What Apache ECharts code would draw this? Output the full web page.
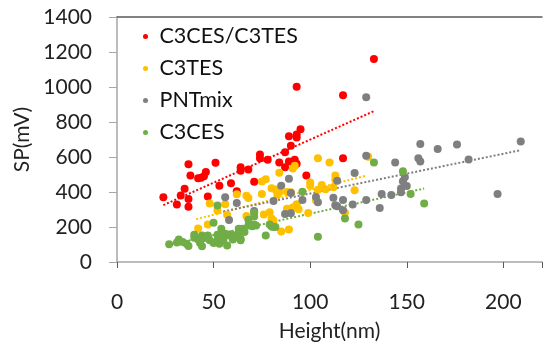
<!DOCTYPE html>
<html>
<head>
<meta charset="utf-8">
<script src="https://cdn.jsdelivr.net/npm/echarts@6/dist/echarts.min.js"></script>
<style>
  html, body { margin: 0; padding: 0; background: #fff; }
  #chart { width: 545px; height: 347px; }
</style>
</head>
<body>
<div id="chart"></div>
<script>
// ---------------------------------------------------------------
// Data: [height (nm), SP (mV)]
// ---------------------------------------------------------------
var seriesNames = ['C3CES/C3TES', 'C3TES', 'PNTmix', 'C3CES'];
var seriesColors = ['#ff0000', '#ffc000', '#7f7f7f', '#70ad47'];

var mixedPoints = [
  [24, 370], [31, 328], [33, 380], [35, 418], [37, 360], [37, 316], [37, 558], [38, 495],
  [42, 478], [43.5, 482], [45, 490], [46, 514], [47, 374], [51, 567], [53, 436], [59, 450],
  [62, 404], [64, 542], [64, 522], [68, 528], [71, 458], [74, 614], [74, 593], [78, 584],
  [84, 568], [87, 542], [89, 575], [87, 627], [90, 665], [93, 562], [92, 584], [89, 718],
  [93, 728], [95, 758], [93, 712], [93, 1002], [98, 494], [117, 593], [117, 953], [133, 1160]
];
var c3tesPoints = [
  [42, 192], [47, 215], [48, 335], [52, 294], [56, 330], [57, 270], [62, 387], [67, 379],
  [68, 366], [67, 263], [71, 285], [75, 389], [75, 460], [77, 473], [76, 272], [79, 285],
  [80, 421], [82, 415], [84, 510], [83, 385], [84, 398], [80, 249], [81, 237], [85, 175],
  [89, 186], [88, 400], [91, 535], [92, 550], [88, 305], [91, 311], [93, 330], [94, 302],
  [90, 399], [99, 280], [100, 455], [100, 436], [104, 413], [104, 593], [103, 351], [110, 569],
  [130, 601], [113, 495], [113, 470], [106, 440], [123, 410], [118, 281], [108, 416], [112, 427]
];
var pntPoints = [
  [56, 370], [62, 337], [58, 240], [71, 292], [81, 348], [85, 436], [90, 395], [89, 476],
  [87, 275], [90, 278], [96, 355], [103, 371], [104, 342], [113, 325], [112, 367], [114, 318],
  [117, 355], [117, 296], [122, 329], [123, 508], [114, 464], [129, 607], [129, 354], [136, 308],
  [137, 388], [142, 383], [147, 399], [147, 420], [150, 434], [148, 462], [149, 485], [144, 569],
  [156, 593], [157, 575], [157, 674], [166, 646], [176, 671], [209, 688], [182, 586], [197, 388],
  [129, 941]
];
var c3cesPoints = [
  [27, 101], [31, 111], [32, 129], [34, 115], [36, 105], [37, 92], [40, 156], [40, 139],
  [42, 128], [43, 109], [44, 90], [44, 152], [45, 137], [47, 152], [47, 143], [48, 124],
  [50, 109], [50, 224], [52, 124], [52, 156], [52, 323], [53, 105], [54, 190], [55, 124],
  [55, 152], [56, 162], [57, 95], [58, 152], [59, 158], [60, 128], [61, 143], [61, 152],
  [63, 190], [63, 166], [64, 124], [64, 133], [65, 190], [66, 172], [68, 241], [68, 209],
  [70, 205], [71, 213], [72, 209], [71, 281], [71, 260], [77, 152], [79, 215], [80, 203],
  [81, 200], [82, 200], [96, 401], [104, 145], [118, 249], [125, 215], [133, 569], [148, 518],
  [152, 388], [159, 335]
];

// Linear trend lines, end points
var mixedTrend = [[24, 325], [133, 862]];
var c3tesTrend = [[41, 245], [129, 493]];
var pntTrend = [[55, 289], [209, 639]];
var c3cesTrend = [[27, 98], [159, 420]];

var xTicks = [0, 50, 100, 150, 200];
var yTicks = [0, 200, 400, 600, 800, 1000, 1200, 1400];

// ---------------------------------------------------------------
// Chart
// ---------------------------------------------------------------
var font = 'Lato, "Open Sans", sans-serif';
var pointSets = [mixedPoints, c3tesPoints, pntPoints, c3cesPoints];
var trendSets = [mixedTrend, c3tesTrend, pntTrend, c3cesTrend];

var series = [];
pointSets.forEach(function (pts, i) {
  series.push({
    name: seriesNames[i],
    type: 'scatter',
    data: pts,
    symbolSize: 8,
    itemStyle: { color: seriesColors[i], opacity: 1 },
    z: 3
  });
});
trendSets.forEach(function (pts, i) {
  series.push({
    name: seriesNames[i] + ' trend',
    type: 'line',
    data: pts,
    showSymbol: false,
    silent: true,
    lineStyle: { color: seriesColors[i], width: 2, type: [2, 2] },
    z: 2
  });
});

var chart = echarts.init(document.getElementById('chart'), null, { renderer: 'canvas' });
chart.setOption({
  animation: false,
  backgroundColor: '#ffffff',
  textStyle: { fontFamily: font },
  grid: { left: 117, right: -3, top: 17, bottom: 83.5, containLabel: false },
  legend: {
    data: seriesNames.map(function (n) { return { name: n, icon: 'circle' }; }),
    orient: 'vertical',
    left: 138,
    top: 20.5,
    itemWidth: 18,
    itemHeight: 5,
    itemGap: 10,
    textStyle: { fontFamily: font, fontSize: 21.5, color: '#111' }
  },
  xAxis: [{
    type: 'value',
    min: 0,
    max: 220,
    interval: 50,
    name: 'Height(nm)',
    nameLocation: 'middle',
    nameGap: 59,
    nameTextStyle: { fontFamily: font, fontSize: 21, color: '#222' },
    axisLine: { show: true, lineStyle: { color: '#a6a6a6', width: 1.5 } },
    axisTick: { show: true, length: 6, lineStyle: { color: '#595959' } },
    axisLabel: {
      fontFamily: font, fontSize: 21, color: '#222', margin: 30,
      formatter: function (v) { return xTicks.indexOf(v) >= 0 ? String(v) : ''; }
    },
    splitLine: { show: false }
  }, {
    type: 'value',
    position: 'top',
    min: 0,
    max: 220,
    axisLine: { show: true, lineStyle: { color: '#595959', width: 1.5 } },
    axisTick: { show: false },
    axisLabel: { show: false },
    splitLine: { show: false }
  }],
  yAxis: {
    type: 'value',
    min: 0,
    max: 1400,
    interval: 200,
    name: 'SP(mV)',
    nameLocation: 'middle',
    nameGap: 83,
    nameTextStyle: { fontFamily: font, fontSize: 21, color: '#222' },
    axisLine: { show: true, lineStyle: { color: '#a6a6a6', width: 1.5 } },
    axisTick: { show: true, length: 8, lineStyle: { color: '#a6a6a6' } },
    axisLabel: {
      fontFamily: font, fontSize: 21, color: '#222', margin: 25,
      formatter: function (v) { return yTicks.indexOf(v) >= 0 ? String(v) : ''; }
    },
    splitLine: { show: false }
  },
  series: series
});
</script>
</body>
</html>
